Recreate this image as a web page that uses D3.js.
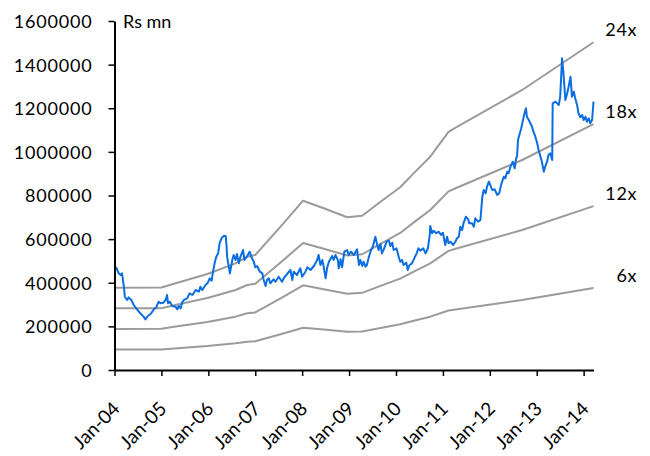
<!DOCTYPE html>
<html><head><meta charset="utf-8">
<script src="https://cdn.jsdelivr.net/npm/d3@7/dist/d3.min.js"></script>
<style>
html,body{margin:0;padding:0;background:#fff;}
svg text{font-family:Lato,"Open Sans",sans-serif;fill:#000;}
</style></head>
<body><svg id="c" width="650" height="456"></svg>
<script>
// Market cap (Rs mn), time in decimal years
const capTime = [2004.00,2004.04,2004.09,2004.13,2004.16,2004.18,2004.20,2004.22,2004.27,2004.30,2004.36,2004.41,2004.48,2004.55,2004.62,2004.66,2004.71,2004.77,2004.84,2004.89,2004.94,2004.98,2005.04,2005.09,2005.12,2005.14,2005.18,2005.23,2005.30,2005.34,2005.37,2005.41,2005.44,2005.48,2005.55,2005.60,2005.66,2005.73,2005.80,2005.83,2005.87,2005.94,2005.99,2006.03,2006.07,2006.10,2006.14,2006.17,2006.21,2006.24,2006.28,2006.33,2006.37,2006.39,2006.40,2006.46,2006.51,2006.54,2006.58,2006.61,2006.65,2006.68,2006.74,2006.77,2006.83,2006.88,2006.93,2006.97,2007.00,2007.04,2007.10,2007.15,2007.18,2007.22,2007.25,2007.29,2007.32,2007.39,2007.43,2007.50,2007.57,2007.62,2007.68,2007.75,2007.79,2007.82,2007.89,2007.96,2008.00,2008.07,2008.11,2008.18,2008.25,2008.32,2008.35,2008.39,2008.43,2008.46,2008.50,2008.53,2008.57,2008.60,2008.64,2008.67,2008.71,2008.76,2008.78,2008.82,2008.85,2008.90,2008.96,2008.99,2009.04,2009.10,2009.17,2009.21,2009.24,2009.28,2009.31,2009.35,2009.38,2009.42,2009.47,2009.51,2009.56,2009.60,2009.63,2009.67,2009.70,2009.74,2009.80,2009.85,2009.88,2009.92,2009.95,2010.01,2010.06,2010.09,2010.13,2010.16,2010.22,2010.25,2010.29,2010.34,2010.39,2010.44,2010.48,2010.52,2010.58,2010.63,2010.68,2010.72,2010.73,2010.77,2010.80,2010.86,2010.91,2010.96,2011.00,2011.05,2011.09,2011.12,2011.16,2011.22,2011.27,2011.30,2011.34,2011.37,2011.41,2011.44,2011.49,2011.54,2011.56,2011.62,2011.66,2011.69,2011.75,2011.80,2011.84,2011.87,2011.91,2011.94,2011.98,2012.01,2012.05,2012.10,2012.16,2012.20,2012.25,2012.30,2012.33,2012.37,2012.40,2012.44,2012.49,2012.53,2012.56,2012.58,2012.60,2012.63,2012.67,2012.70,2012.74,2012.77,2012.79,2012.83,2012.90,2012.93,2012.97,2013.01,2013.04,2013.08,2013.11,2013.15,2013.18,2013.22,2013.25,2013.29,2013.33,2013.34,2013.40,2013.47,2013.50,2013.54,2013.57,2013.61,2013.65,2013.68,2013.72,2013.75,2013.79,2013.82,2013.86,2013.89,2013.93,2013.97,2014.00,2014.04,2014.07,2014.11,2014.14,2014.18,2014.21];
const capValue = [465000,469000,443000,435500,443000,412700,382000,336000,321000,333000,321000,298000,278000,260000,244500,232000,247600,256800,278000,287500,313000,305800,308700,321000,343900,305800,313000,293400,290200,278300,293400,282700,308700,321000,328600,351500,343900,366800,359200,382000,366800,389700,400300,420400,409500,450700,496500,519500,535000,580900,603800,615000,614400,565300,519500,443000,504000,527300,504300,531900,489000,516600,550000,504300,522700,542400,512000,496500,470800,476800,450700,443300,412600,385100,412600,420400,397500,415800,404800,427800,404800,425000,440200,458500,412600,450700,435600,466300,427800,450700,470800,458500,476800,504300,527300,481400,504300,470800,420400,466300,496500,507500,522700,504300,527300,504300,466300,507500,470800,542400,550200,527300,542400,527300,553300,481400,504300,476800,496500,473600,481400,516600,550200,568500,611200,573100,550200,577700,535000,553300,588300,592800,568500,583700,550200,558000,516600,496500,504300,481400,492000,458500,481400,489000,512000,535000,558000,547000,558000,535000,558000,619000,660200,626700,638700,626700,634100,619000,629500,573100,611200,580900,588300,573100,590000,603800,611200,657000,642000,672600,702900,690900,672600,672600,657000,695500,680000,687800,794600,825300,810000,840400,863300,848200,825300,828600,802400,810000,856000,886300,878900,909300,901800,932100,955000,924800,970600,978000,1054600,1077500,1108300,1138500,1177000,1200000,1161500,1146300,1115400,1092600,1069700,1039400,1008700,978000,955000,909300,932100,955000,985800,993400,962900,1222700,1230200,1215000,1253000,1429000,1360000,1238000,1268700,1299000,1344800,1253000,1276000,1245800,1215000,1177000,1158600,1169200,1146300,1161500,1138500,1154000,1131000,1146300,1230200];

// Forward earnings (Rs mn) used for PE bands
const epsTime  = [2004.00,2005.00,2005.34,2005.98,2006.58,2006.83,2007.00,2007.54,2008.02,2008.46,2008.96,2009.28,2009.67,2010.09,2010.38,2010.73,2011.12,2011.27,2012.69,2014.21];
const epsValue = [15700,15750,16680,18340,20380,21650,21970,27380,32340,30890,29170,29480,32150,34900,37600,40750,45500,46300,53490,62600];
const multiples = [6,12,18,24];
const bandLabels = ["6x","12x","18x","24x"];

const yTicks = [0,200000,400000,600000,800000,1000000,1200000,1400000,1600000];
const xTicks = [2004,2005,2006,2007,2008,2009,2010,2011,2012,2013,2014];
const xTickLabels = ["Jan-04","Jan-05","Jan-06","Jan-07","Jan-08","Jan-09","Jan-10","Jan-11","Jan-12","Jan-13","Jan-14"];

const svg = d3.select("#c");
const x = d3.scaleLinear().domain([2004, 2014.21]).range([114.5, 593.5]);
const y = d3.scaleLinear().domain([0, 1600000]).range([370, 21]);

// PE bands
const band = d3.line().x(d => x(d[0])).y(d => y(d[1]));
multiples.forEach((m, i) => {
  const pts = epsTime.map((t, j) => [t, epsValue[j] * m]);
  svg.append("path").attr("d", band(pts)).attr("fill", "none")
    .attr("stroke", "#9b9b9b").attr("stroke-width", 2).attr("stroke-linejoin", "round");
  const last = pts[pts.length - 1];
  svg.append("text").attr("x", 637).attr("y", y(last[1]) - 6)
    .attr("text-anchor", "end").attr("font-size", 18).attr("letter-spacing", 0.6)
    .text(bandLabels[i]);
});

// Market cap
const capLine = d3.line().x((d, i) => x(capTime[i])).y(d => y(d));
svg.append("path").attr("d", capLine(capValue)).attr("fill", "none")
  .attr("stroke", "#0a6ee0").attr("stroke-width", 2).attr("stroke-linejoin", "round");

// Axes
const yAxis = svg.append("g").attr("transform", "translate(114.5,0)")
  .call(d3.axisLeft(y).tickValues(yTicks).tickSize(6).tickSizeOuter(0).tickPadding(16).tickFormat(d3.format("d")));
yAxis.selectAll("text").attr("font-size", 18).attr("letter-spacing", 0.8).attr("dy", "0.36em");
const xAxis = svg.append("g").attr("transform", "translate(0,370)")
  .call(d3.axisBottom(x).tickValues(xTicks).tickSize(6).tickSizeOuter(0).tickFormat((d, i) => xTickLabels[i]));
xAxis.selectAll("text").attr("font-size", 19).attr("text-anchor", "end")
  .attr("dy", null).attr("y", 0)
  .attr("transform", "translate(6,40) rotate(-45)");
[yAxis, xAxis].forEach(g => {
  g.select(".domain").attr("stroke", "#000").attr("stroke-width", 2);
  g.selectAll(".tick line").attr("stroke", "#000").attr("stroke-width", 1.5);
});

svg.append("text").attr("x", 123).attr("y", 28).attr("font-size", 18).text("Rs mn");
</script></body></html>
